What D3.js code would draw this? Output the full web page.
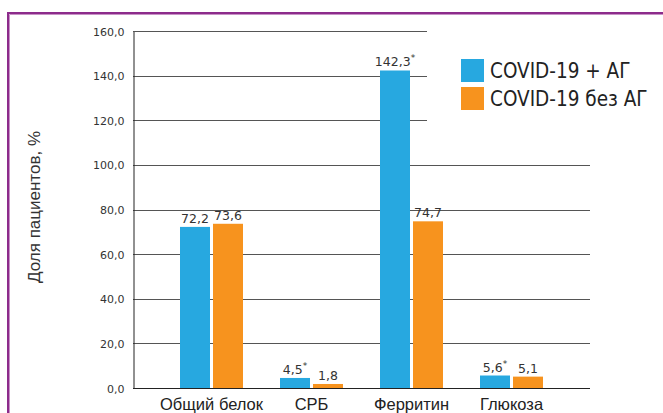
<!DOCTYPE html>
<html>
<head>
<meta charset="utf-8">
<script src="https://cdn.jsdelivr.net/npm/d3@7/dist/d3.min.js"></script>
<style>
  html, body { margin: 0; padding: 0; background: #fff; }
  svg { display: block; }
</style>
</head>
<body>
<svg id="chart" width="663" height="413"></svg>
<script>
// Лабораторные показатели у пациентов с COVID-19
const categories = ["Общий белок", "СРБ", "Ферритин", "Глюкоза"];
const seriesNames = ["COVID-19 + АГ", "COVID-19 без АГ"];
const withAH = [72.2, 4.5, 142.3, 5.6];
const withoutAH = [73.6, 1.8, 74.7, 5.1];
const significant = [false, true, true, true]; // отметка * для группы с АГ
const yTicks = [0, 20, 40, 60, 80, 100, 120, 140, 160];
const colors = ["#27a8e0", "#f7931e"];

const svg = d3.select("#chart");
const fmt = v => d3.format(".1f")(v).replace(".", ",");

const plotLeft = 133, plotRight = 590, plotTop = 31, plotBottom = 388;

const y = d3.scaleLinear().domain([0, 160]).range([plotBottom, plotTop]);
const x = d3.scaleBand().domain(categories).range([plotLeft, plotRight])
  .paddingInner(0).paddingOuter(0.285);
const groupW = 63;
const xs = d3.scaleBand().domain(seriesNames).range([0, groupW]).paddingInner(0.0909);

// Рамка слева и сверху
svg.append("path").attr("d", "M9.5,413V14.5H663")
  .attr("fill", "none").attr("stroke", "#c792c6").attr("stroke-width", 1);
svg.append("path").attr("d", "M8,413V13H663")
  .attr("fill", "none").attr("stroke", "#8c2b8b").attr("stroke-width", 2);

// Сетка
const grid = svg.append("g");
grid.selectAll("line").data(yTicks).join("line")
  .attr("x1", plotLeft).attr("x2", plotRight)
  .attr("y1", d => Math.round(y(d)) + 0.5).attr("y2", d => Math.round(y(d)) + 0.5)
  .attr("stroke", d => d === 0 ? "#222" : "#555").attr("stroke-width", 1);

// Ось Y
const yAxis = svg.append("g")
  .attr("transform", `translate(${plotLeft + 0.5},0.5)`)
  .call(d3.axisLeft(y).tickValues(yTicks).tickFormat(fmt).tickSize(0).tickPadding(9));
yAxis.select(".domain").attr("stroke", "#222");
yAxis.selectAll("text")
  .attr("font-family", "DejaVu Sans").attr("font-size", 11).attr("fill", "#333");

// Подпись оси Y
svg.append("text")
  .attr("transform", `translate(40,207) rotate(-90)`)
  .attr("text-anchor", "middle")
  .attr("font-family", "Liberation Sans").attr("font-size", 17).attr("fill", "#333")
  .text("Доля пациентов, %");

// Столбцы
const rows = categories.map((c, i) => ({
  cat: c, sig: significant[i],
  vals: [
    { s: seriesNames[0], v: withAH[i], k: 0 },
    { s: seriesNames[1], v: withoutAH[i], k: 1 }
  ]
}));

const groups = svg.append("g").selectAll("g").data(rows).join("g")
  .attr("transform", d => `translate(${x(d.cat) + x.bandwidth() / 2 - groupW / 2},0)`);

groups.selectAll("rect").data(d => d.vals).join("rect")
  .attr("x", d => xs(d.s)).attr("width", xs.bandwidth())
  .attr("y", d => y(d.v)).attr("height", d => y(0) - y(d.v))
  .attr("fill", d => colors[d.k]);

// Значения над столбцами
groups.each(function (row) {
  const g = d3.select(this);
  row.vals.forEach(d => {
    const t = g.append("text")
      .attr("x", xs(d.s) + xs.bandwidth() / 2)
      .attr("y", y(d.v) - 4)
      .attr("text-anchor", "middle")
      .attr("font-family", "DejaVu Sans").attr("font-size", 12.5).attr("fill", "#333");
    t.append("tspan").text(fmt(d.v));
    if (d.k === 0 && row.sig) {
      t.append("tspan").attr("dy", -5).attr("font-size", 9).text("*");
    }
  });
});

// Подписи категорий
svg.append("g").selectAll("text").data(categories).join("text")
  .attr("x", d => x(d) + x.bandwidth() / 2)
  .attr("y", 410)
  .attr("text-anchor", "middle")
  .attr("font-family", "Liberation Sans").attr("font-size", 16.5).attr("fill", "#222")
  .text(d => d);

// Легенда
const legend = svg.append("g");
legend.append("rect").attr("x", 427).attr("y", 24).attr("width", 200).attr("height", 102)
  .attr("fill", "#fff");
const li = legend.selectAll("g.item").data(seriesNames).join("g")
  .attr("class", "item")
  .attr("transform", (d, i) => `translate(461,${59 + i * 28})`);
li.append("rect").attr("width", 23).attr("height", 23).attr("fill", (d, i) => colors[i]);
li.append("text").attr("x", 29).attr("y", 19)
  .attr("font-family", "Liberation Sans Narrow, DejaVu Sans Condensed, sans-serif")
  .attr("font-size", 20.5).attr("fill", "#222")
  .text(d => d);
</script>
</body>
</html>
